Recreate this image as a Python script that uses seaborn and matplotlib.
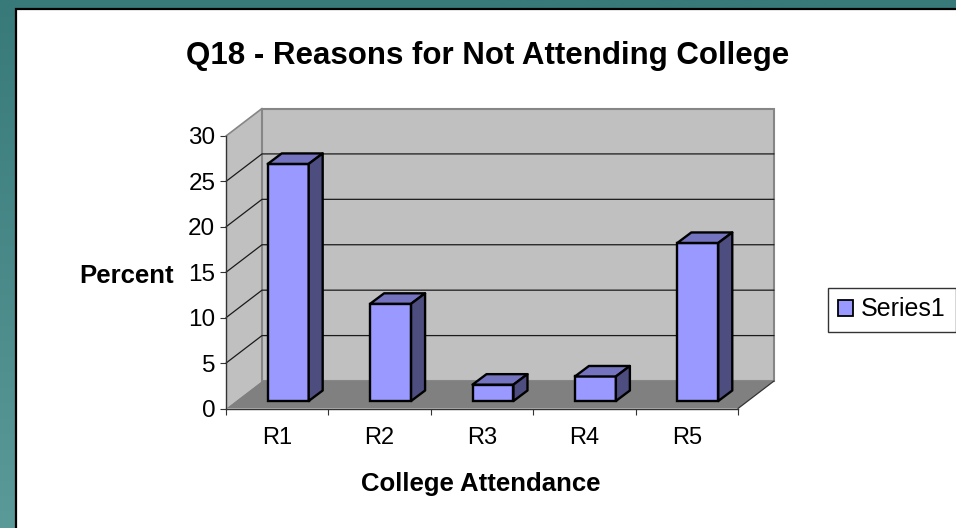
import numpy as np
import pandas as pd
import seaborn as sns
import matplotlib
matplotlib.use("Agg")
import matplotlib.pyplot as plt
from matplotlib.colors import LinearSegmentedColormap
from matplotlib.patches import Polygon, Rectangle
from matplotlib.transforms import Affine2D, IdentityTransform

# Chart content
categories = ["R1", "R2", "R3", "R4", "R5"]
percent = [26.1, 10.7, 1.8, 2.7, 17.4]
y_ticks = [0, 5, 10, 15, 20, 25, 30]
series_name = "Series1"

# Pseudo-3D depth, in pixels
WALL_DX, WALL_DY = 36, 27.5
BAR_DX, BAR_DY = 11, 7.5
SIDE_DX, SIDE_DY = 14, 10.5

FACE = "#9999ff"
TOP = "#7373bf"
SIDE = "#4d4d80"

sns.set_theme(style="white")
plt.rcParams["font.family"] = ["Liberation Sans", "DejaVu Sans"]

W, H = 956, 528
fig = plt.figure(figsize=(W / 100, H / 100), dpi=100)

# Slide background with its white panel
bg = fig.add_axes([0, 0, 1, 1], zorder=0)
bg.set_axis_off()
teal = LinearSegmentedColormap.from_list("teal", ["#38797a", "#5a9a98"])
bg.imshow(np.linspace(0, 1, 256)[:, None], cmap=teal, aspect="auto",
          extent=[0, W, H, 0])
bg.add_patch(Rectangle((16, 8.5), W + 20, H + 20, facecolor="white",
                       edgecolor="black", linewidth=1.6))
bg.set_xlim(0, W)
bg.set_ylim(H, 0)

# Front plane of the plot box
ax = fig.add_axes([226 / W, (H - 408.5) / H, 512 / W, 272.5 / H], zorder=1)
ax.patch.set_visible(False)

frame = pd.DataFrame({"category": categories, "percent": percent})
sns.barplot(data=frame, x="category", y="percent", color=FACE, saturation=1,
            width=0.4, edgecolor="black", linewidth=1.7,
            ax=ax, zorder=5, legend=False)
bars = list(ax.patches)
ax.set_xlim(-0.5, len(categories) - 0.5)
ax.set_ylim(0, max(y_ticks))


def to_px(x, y):
    return ax.transData.transform((x, y))


x0, x1 = ax.get_xlim()
y0, y1 = ax.get_ylim()
fl, fr = to_px(x0, y0), to_px(x1, y0)
tl = to_px(x0, y1)
wall = np.array([WALL_DX, WALL_DY])
px = IdentityTransform()

# Left wall, back wall and floor
ax.add_patch(Polygon([fl, tl, tl + wall, fl + wall], closed=True, transform=px,
                     facecolor="#c0c0c0", edgecolor="none", zorder=1, clip_on=False))
ax.add_patch(Polygon([fl + wall, tl + wall, to_px(x1, y1) + wall, fr + wall], closed=True,
                     transform=px, facecolor="#c0c0c0", edgecolor="#868686",
                     linewidth=1.5, zorder=1, clip_on=False))
ax.add_patch(Polygon([fl, fr, fr + wall, fl + wall], closed=True, transform=px,
                     facecolor="#808080", edgecolor="none", zorder=2, clip_on=False))
ax.plot(*np.array([tl, tl + wall]).T, transform=px, color="#868686", lw=1.2,
        zorder=2, clip_on=False)
ax.plot(*np.array([fr, fr + wall]).T, transform=px, color="#333333", lw=0.9,
        zorder=3, clip_on=False)

# Gridlines run back along the left wall, then across the back wall
for v in y_ticks[1:-1]:
    p = to_px(x0, v)
    q = to_px(x1, v)
    ax.plot(*np.array([p, p + wall, q + wall]).T, transform=px, color="#1a1a1a",
            lw=0.9, zorder=3, clip_on=False)

# Shift each bar onto the floor and add its top and side faces
shift = Affine2D().translate(BAR_DX, BAR_DY)
depth = np.array([SIDE_DX, SIDE_DY])
nudge = np.array([BAR_DX, BAR_DY])
for bar in bars:
    left, right = bar.get_x(), bar.get_x() + bar.get_width()
    top = bar.get_height()
    a, b = to_px(left, top) + nudge, to_px(right, top) + nudge
    c = to_px(right, 0) + nudge
    ax.add_patch(Polygon([a, b, b + depth, a + depth], closed=True, transform=px,
                         facecolor=TOP, edgecolor="black", linewidth=1.7,
                         joinstyle="round", zorder=6, clip_on=False))
    ax.add_patch(Polygon([b, c, c + depth, b + depth], closed=True, transform=px,
                         facecolor=SIDE, edgecolor="black", linewidth=1.7,
                         joinstyle="round", zorder=6, clip_on=False))
    bar.set_transform(ax.transData + shift)
    bar.set_clip_on(False)

# Axes, ticks and labels
sns.despine(ax=ax, top=True, right=True)
for side in ("left", "bottom"):
    ax.spines[side].set_color("#333333")
    ax.spines[side].set_linewidth(1.0)
    ax.spines[side].set_zorder(4)
ax.set_yticks(y_ticks)
ax.set_xticks(np.arange(x0, x1 + 0.01, 1.0), [""] * (len(categories) + 1))
ax.set_xticks(range(len(categories)), categories, minor=True)
ax.tick_params(axis="y", which="major", left=True, length=4.3, width=0.8,
               color="#333333", labelsize=17.5, labelcolor="black", pad=3.4)
ax.tick_params(axis="x", which="major", bottom=True, length=4.3, width=0.8, color="#333333")
ax.tick_params(axis="x", which="minor", bottom=False, length=0, labelsize=17,
               labelcolor="black", pad=13)

ax.set_title("Q18 - Reasons for Not Attending College", fontsize=22.5, fontweight="bold",
             color="black", x=(487.5 - 226) / 512, y=(408.5 - 56) / 272.5, va="center", pad=0)
ax.set_ylabel("Percent", fontsize=18.5, fontweight="bold", color="black", rotation=0,
              ha="center", va="center")
ax.yaxis.set_label_coords((126.5 - 226) / 512, (408.5 - 276) / 272.5)
ax.set_xlabel("College Attendance", fontsize=18.5, fontweight="bold", color="black",
              ha="center", va="center")
ax.xaxis.set_label_coords((481 - 226) / 512, (408.5 - 484) / 272.5)

# Legend box on the right
handle = Rectangle((0, 0), 1, 1, facecolor=FACE, edgecolor="black", linewidth=1.3)
fig.legend([handle], [series_name], loc="center", bbox_to_anchor=(892 / W, (H - 309.5) / H),
           fontsize=18, frameon=True, fancybox=False, edgecolor="#333333", framealpha=1,
           labelcolor="black", handlelength=0.6, handleheight=0.6, handletextpad=0.3,
           borderpad=0.4, borderaxespad=0)

fig.savefig("out.png", dpi=100)
